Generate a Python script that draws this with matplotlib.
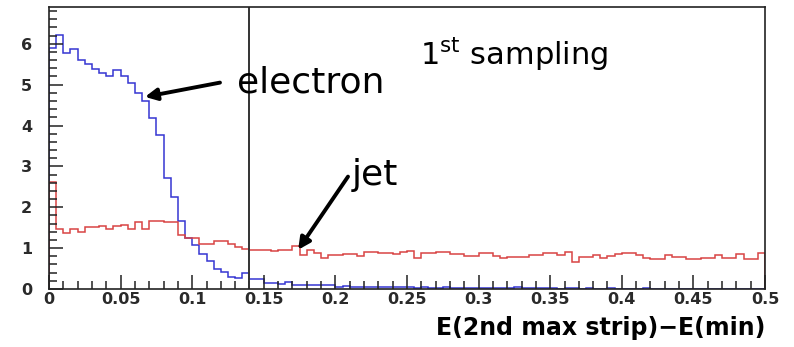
import numpy as np
import matplotlib
matplotlib.use("Agg")
import matplotlib.pyplot as plt
from matplotlib.ticker import MultipleLocator

# Contenido de los histogramas (100 bins entre 0 y 0.5)
bordes = np.linspace(0, 0.5, 101)

electron = [5.9, 6.22, 5.78, 5.88, 5.6, 5.5, 5.38, 5.28, 5.2, 5.36,
            5.22, 5.05, 4.8, 4.6, 4.19, 3.77, 2.71, 2.26, 1.67, 1.25,
            1.08, 0.86, 0.68, 0.5, 0.42, 0.3, 0.26, 0.38, 0.24, 0.24,
            0.15, 0.15, 0.13, 0.16, 0.1, 0.1, 0.1, 0.09, 0.1, 0.09,
            0.06, 0.07, 0.06, 0.06, 0.05, 0.06, 0.05, 0.05, 0.04, 0.05,
            0.04, 0.03, 0.04, 0.03, 0.03, 0.04, 0.03, 0.03, 0.02, 0.03,
            0.03, 0.02, 0.03, 0.02, 0.02, 0.05, 0.02, 0.02, 0.02, 0.02,
            0.02, 0.01, 0.02, 0.02, 0.01, 0.02, 0.01, 0.01, 0.02, 0.01,
            0.01, 0.01, 0.01, 0.02, 0.01, 0.01, 0.01, 0.01, 0.01, 0.01,
            0.01, 0.01, 0.01, 0.01, 0.01, 0.01, 0.01, 0.01, 0.01, 0.01]

jet = [2.63, 1.46, 1.38, 1.46, 1.40, 1.51, 1.51, 1.53, 1.48, 1.53,
       1.57, 1.46, 1.63, 1.46, 1.67, 1.67, 1.63, 1.63, 1.31, 1.24,
       1.24, 1.1, 1.1, 1.18, 1.18, 1.1, 1.02, 0.98, 0.96, 0.96,
       0.96, 0.93, 0.96, 0.96, 1.04, 0.83, 0.95, 0.87, 0.75, 0.83,
       0.83, 0.85, 0.85, 0.81, 0.9, 0.9, 0.87, 0.87, 0.85, 0.9,
       0.93, 0.75, 0.87, 0.87, 0.9, 0.9, 0.85, 0.85, 0.81, 0.81,
       0.87, 0.87, 0.8, 0.75, 0.79, 0.79, 0.79, 0.83, 0.83, 0.87,
       0.87, 0.83, 0.91, 0.67, 0.79, 0.79, 0.83, 0.75, 0.8, 0.85,
       0.87, 0.87, 0.83, 0.77, 0.73, 0.73, 0.83, 0.79, 0.79, 0.73,
       0.73, 0.76, 0.76, 0.83, 0.77, 0.77, 0.85, 0.73, 0.73, 0.87]

corte = 0.14
x_ticks = [0, 0.05, 0.1, 0.15, 0.2, 0.25, 0.3, 0.35, 0.4, 0.45, 0.5]
x_etiquetas = ["0", "0.05", "0.1", "0.15", "0.2", "0.25", "0.3", "0.35", "0.4", "0.45", "0.5"]
y_ticks = [0, 1, 2, 3, 4, 5, 6]

fig = plt.figure(figsize=(7.94, 3.47), dpi=100)
ax = fig.add_axes([49 / 794, 1 - 289 / 347, 716 / 794, 282 / 347])

ax.stairs(electron, bordes, baseline=0, color="#3535d2", lw=1.1)
ax.stairs(jet, bordes, baseline=0, color="#d84444", lw=1.1)
ax.axvline(corte, color="#333333", lw=1.4)

ax.set_xlim(0, 0.5)
ax.set_ylim(0, 6.9)

ax.set_xticks(x_ticks)
ax.set_xticklabels(x_etiquetas)
ax.set_yticks(y_ticks)
ax.xaxis.set_minor_locator(MultipleLocator(0.01))
ax.yaxis.set_minor_locator(MultipleLocator(0.2))

fuente = "DejaVu Sans"
ax.tick_params(which="both", direction="in", top=False, right=False,
               colors="#222222", width=1.1)
ax.tick_params(which="major", length=10)
ax.tick_params(which="minor", length=5.5)
ax.tick_params(axis="x", pad=2)
ax.tick_params(axis="y", pad=12)
for lab in ax.get_xticklabels() + ax.get_yticklabels():
    lab.set_fontfamily(fuente)
    lab.set_fontweight("bold")
    lab.set_fontsize(11.5)
    lab.set_color("#2a2a2a")

for s in ax.spines.values():
    s.set_linewidth(1.2)
    s.set_color("#222222")

ax.set_xlabel("E(2nd max strip)\u2212E(min)", fontfamily=fuente, fontweight="bold",
              fontsize=17, loc="right", labelpad=7)

# Textos y flechas
ax.text(0.259, 5.49, "1$^{\\rm st}$ sampling", fontsize=22, family="DejaVu Sans",
        va="baseline", ha="left")
ax.text(0.131, 4.8, "electron", fontsize=26, family="DejaVu Sans",
        va="baseline", ha="left")
ax.text(0.2116, 2.55, "jet", fontsize=26, family="DejaVu Sans",
        va="baseline", ha="left")

flecha = dict(arrowstyle="-|>,head_length=0.7,head_width=0.35", color="black",
              lw=2.8, shrinkA=0, shrinkB=0)
ax.annotate("", xy=(0.067, 4.7), xytext=(0.1194, 5.05), arrowprops=flecha)
ax.annotate("", xy=(0.174, 0.96), xytext=(0.2088, 2.75), arrowprops=flecha)

fig.savefig("out.png", dpi=100, facecolor="white")
